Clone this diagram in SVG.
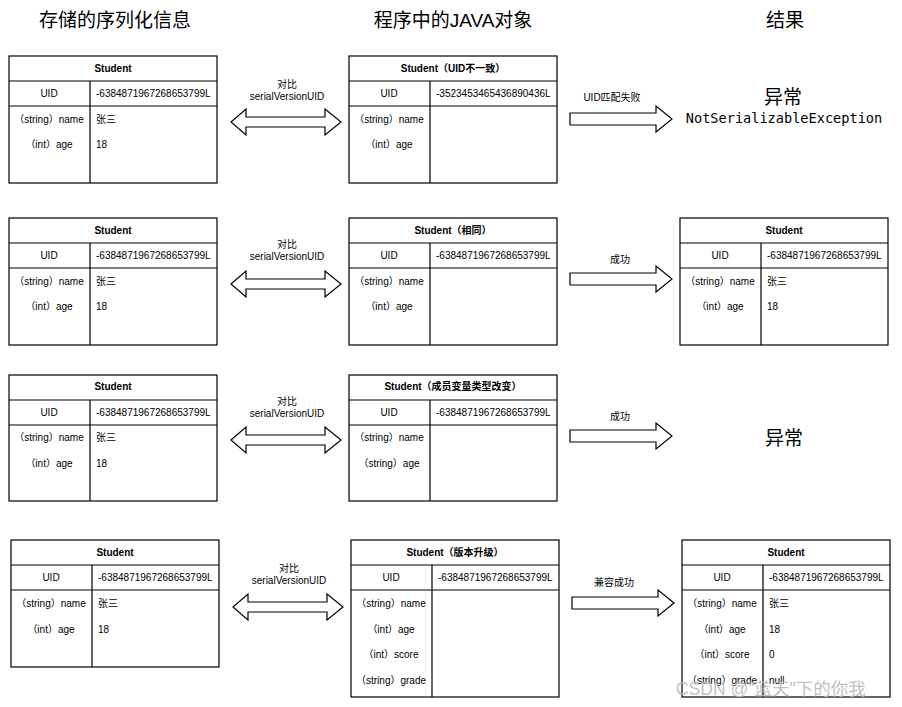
<svg xmlns="http://www.w3.org/2000/svg" width="902" height="707" viewBox="0 0 902 707">
<style>
.b{fill:#fff;stroke:#000;stroke-width:1.2}
.l{stroke:#000;stroke-width:1.2;fill:none}
text{font-family:"Liberation Sans","Noto Sans CJK SC",sans-serif;font-size:10px;fill:#000}
.h{font-weight:bold;text-anchor:middle}
.c{text-anchor:middle}
.t{font-size:19px;text-anchor:middle}
.big{font-size:19px;text-anchor:middle}
.mono{font-family:"DejaVu Sans Mono","Liberation Mono",monospace;font-size:13.6px;text-anchor:middle}
.ar{fill:#fff;stroke:#000;stroke-width:1.2}
</style>
<text class="t" x="115" y="27">存储的序列化信息</text>
<text class="t" x="453" y="27">程序中的JAVA对象</text>
<text class="t" x="785" y="27">结果</text>

<g id="r1-left" transform="translate(9,56)">
<rect class="b" width="208" height="127"/><path class="l" d="M0 25H208M0 50H208M81 25V127"/>
<text class="h" x="104" y="16">Student</text><text class="c" x="40" y="41">UID</text><text x="87" y="41">-6384871967268653799L</text>
<text class="c" x="40" y="67">（string）name</text><text x="87" y="67">张三</text>
<text class="c" x="40" y="92">（int）age</text><text x="87" y="92">18</text></g>
<g id="r1-mid" transform="translate(349,56)">
<rect class="b" width="208" height="127"/><path class="l" d="M0 25H208M0 50H208M81 25V127"/>
<text class="h" x="104" y="16">Student（UID不一致）</text><text class="c" x="40" y="41">UID</text><text x="87" y="41">-3523453465436890436L</text>
<text class="c" x="40" y="67">（string）name</text>
<text class="c" x="40" y="92">（int）age</text></g>
<g id="r1-res"><text class="big" x="783" y="104">异常</text><text class="mono" x="784" y="123">NotSerializableException</text></g>

<g id="r2-left" transform="translate(9,218)">
<rect class="b" width="208" height="127"/><path class="l" d="M0 25H208M0 50H208M81 25V127"/>
<text class="h" x="104" y="16">Student</text><text class="c" x="40" y="41">UID</text><text x="87" y="41">-6384871967268653799L</text>
<text class="c" x="40" y="67">（string）name</text><text x="87" y="67">张三</text>
<text class="c" x="40" y="92">（int）age</text><text x="87" y="92">18</text></g>
<g id="r2-mid" transform="translate(349,218)">
<rect class="b" width="208" height="127"/><path class="l" d="M0 25H208M0 50H208M81 25V127"/>
<text class="h" x="104" y="16">Student（相同）</text><text class="c" x="40" y="41">UID</text><text x="87" y="41">-6384871967268653799L</text>
<text class="c" x="40" y="67">（string）name</text>
<text class="c" x="40" y="92">（int）age</text></g>
<g id="r2-res" transform="translate(680,218)">
<rect class="b" width="208" height="127"/><path class="l" d="M0 25H208M0 50H208M81 25V127"/>
<text class="h" x="104" y="16">Student</text><text class="c" x="40" y="41">UID</text><text x="87" y="41">-6384871967268653799L</text>
<text class="c" x="40" y="67">（string）name</text><text x="87" y="67">张三</text>
<text class="c" x="40" y="92">（int）age</text><text x="87" y="92">18</text></g>

<g id="r3-left" transform="translate(9,375)">
<rect class="b" width="208" height="126"/><path class="l" d="M0 25H208M0 50H208M81 25V126"/>
<text class="h" x="104" y="15">Student</text><text class="c" x="40" y="41">UID</text><text x="87" y="41">-6384871967268653799L</text>
<text class="c" x="40" y="66">（string）name</text><text x="87" y="66">张三</text>
<text class="c" x="40" y="92">（int）age</text><text x="87" y="92">18</text></g>
<g id="r3-mid" transform="translate(349,375)">
<rect class="b" width="208" height="126"/><path class="l" d="M0 25H208M0 50H208M81 25V126"/>
<text class="h" x="104" y="15">Student（成员变量类型改变）</text><text class="c" x="40" y="41">UID</text><text x="87" y="41">-6384871967268653799L</text>
<text class="c" x="40" y="66">（string）name</text>
<text class="c" x="40" y="92">（string）age</text></g>
<g id="r3-res"><text class="big" x="784" y="445">异常</text></g>

<g id="r4-left" transform="translate(11,540)">
<rect class="b" width="208" height="127"/><path class="l" d="M0 25H208M0 50H208M81 25V127"/>
<text class="h" x="104" y="16">Student</text><text class="c" x="40" y="41">UID</text><text x="87" y="41">-6384871967268653799L</text>
<text class="c" x="40" y="67">（string）name</text><text x="87" y="67">张三</text>
<text class="c" x="40" y="93">（int）age</text><text x="87" y="93">18</text></g>
<g id="r4-mid" transform="translate(351,540)">
<rect class="b" width="208" height="157"/><path class="l" d="M0 25H208M0 50H208M81 25V157"/>
<text class="h" x="104" y="16">Student（版本升级）</text><text class="c" x="40" y="41">UID</text><text x="87" y="41">-6384871967268653799L</text>
<text class="c" x="40" y="67">（string）name</text>
<text class="c" x="40" y="93">（int）age</text>
<text class="c" x="40" y="118">（int）score</text>
<text class="c" x="40" y="144">（string）grade</text></g>
<g id="r4-res" transform="translate(682,540)">
<rect class="b" width="208" height="157"/><path class="l" d="M0 25H208M0 50H208M81 25V157"/>
<text class="h" x="104" y="16">Student</text><text class="c" x="40" y="41">UID</text><text x="87" y="41">-6384871967268653799L</text>
<text class="c" x="40" y="67">（string）name</text><text x="87" y="67">张三</text>
<text class="c" x="40" y="93">（int）age</text><text x="87" y="93">18</text>
<text class="c" x="40" y="118">（int）score</text><text x="87" y="118">0</text>
<text class="c" x="40" y="144">（string）grade</text><text x="87" y="144">null</text></g>

<g id="connectors">
<g transform="translate(0,122)"><path class="ar" d="M231 0L246 -13V-5H325V-13L341 0L325 13V5H246V13Z"/></g>
<g transform="translate(0,284)"><path class="ar" d="M231 0L246 -13V-5H325V-13L341 0L325 13V5H246V13Z"/></g>
<g transform="translate(0,440)"><path class="ar" d="M231 0L246 -13V-5H325V-13L341 0L325 13V5H246V13Z"/></g>
<g transform="translate(2,607)"><path class="ar" d="M231 0L246 -13V-5H325V-13L341 0L325 13V5H246V13Z"/></g>
<path class="ar" d="M570 113H656V106L672 119L656 132V125H570Z"/>
<path class="ar" d="M570 273H656V266L672 279L656 292V285H570Z"/>
<path class="ar" d="M570 430H656V423L672 436L656 449V442H570Z"/>
<path class="ar" d="M572 597H658V590L674 603L658 616V609H572Z"/>
<text class="c" x="287" y="88">对比</text><text class="c" x="287" y="100">serialVersionUID</text>
<text class="c" x="287" y="248">对比</text><text class="c" x="287" y="260">serialVersionUID</text>
<text class="c" x="287" y="405">对比</text><text class="c" x="287" y="417">serialVersionUID</text>
<text class="c" x="289" y="572">对比</text><text class="c" x="289" y="584">serialVersionUID</text>
<text class="c" x="612" y="101">UID匹配失败</text>
<text class="c" x="620" y="263">成功</text>
<text class="c" x="620" y="420">成功</text>
<text class="c" x="614" y="586">兼容成功</text>
</g>
<text x="676" y="695" style="font-size:17.5px;fill:#bbb;opacity:0.9">CSDN @"蓝天"下的你我</text>
</svg>
